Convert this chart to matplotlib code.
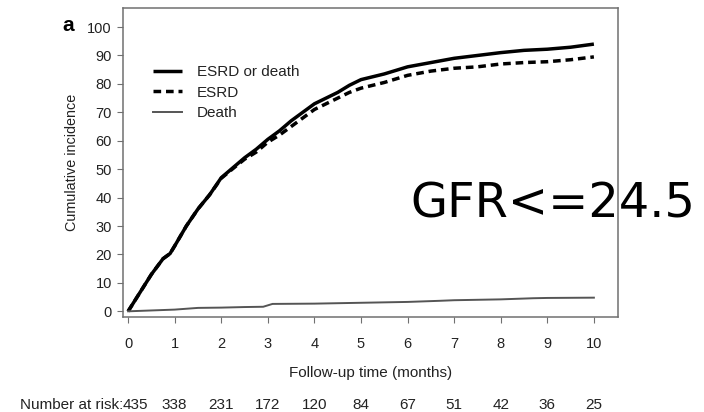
import matplotlib
matplotlib.use("Agg")
import matplotlib.pyplot as plt
from matplotlib.transforms import blended_transform_factory

# Cumulative incidence (%) by follow-up time (months)
t_combined = [0, 0.25, 0.5, 0.75, 0.9, 1.0, 1.25, 1.5, 1.75, 2.0, 2.25, 2.5, 2.75,
              3.0, 3.25, 3.5, 3.75, 4.0, 4.25, 4.5, 4.75, 5.0, 5.5, 6.0, 6.5, 7.0,
              7.5, 8.0, 8.5, 9.0, 9.5, 10.0]
esrd_or_death = [0, 6.5, 13, 18.5, 20.3, 23, 30, 36, 41, 47, 50.5, 54, 57,
                 60.5, 63.5, 67, 70, 73, 75, 77, 79.5, 81.5, 83.5, 86, 87.5, 89,
                 90, 91, 91.8, 92.2, 92.9, 94]
esrd = [0, 6.5, 13, 18.5, 20.3, 23, 30, 36, 41, 46.8, 50.2, 53.5, 56,
        59.5, 62, 65, 68, 71, 73, 75, 77, 78.5, 80.5, 83, 84.5, 85.5,
        86, 87, 87.5, 87.8, 88.5, 89.5]

t_death = [0, 0.5, 1.0, 1.5, 2.0, 2.5, 2.9, 3.1, 4.0, 5.0, 6.0, 6.7, 7.0, 8.0, 8.7, 9.0, 10.0]
death = [0, 0.3, 0.6, 1.2, 1.3, 1.5, 1.6, 2.6, 2.7, 3.0, 3.3, 3.7, 3.9, 4.2, 4.6, 4.7, 4.8]

x_ticks = list(range(0, 11))
y_ticks = list(range(0, 101, 10))
at_risk = [435, 338, 231, 172, 120, 84, 67, 51, 42, 36, 25]

plt.rcParams["font.family"] = ["Liberation Sans", "DejaVu Sans"]
text_color = "#222222"
spine_color = "#707070"

fig = plt.figure(figsize=(7.04, 4.12), dpi=100)
ax = fig.add_axes([0.1747, 0.2306, 0.7033, 0.75])

ax.plot(t_combined, esrd_or_death, color="black", lw=2.5, solid_capstyle="butt",
        label="ESRD or death")
ax.plot(t_combined, esrd, color="black", lw=2.5, linestyle=(0, (2.2, 1.4)),
        label="ESRD")
ax.plot(t_death, death, color="#555555", lw=1.4, label="Death")

ax.set_xlim(-0.11, 10.52)
ax.set_ylim(-2.0, 106.7)
ax.set_xticks(x_ticks)
ax.set_yticks(y_ticks)
ax.tick_params(axis="x", direction="out", length=4, width=0.8, pad=10.5,
               labelsize=10.5, colors=spine_color, labelcolor=text_color)
ax.tick_params(axis="y", direction="out", length=4, width=0.8, pad=4,
               labelsize=10.5, colors=spine_color, labelcolor=text_color)
for sp in ax.spines.values():
    sp.set_color(spine_color)
    sp.set_linewidth(1.1)

ax.set_xlabel("Follow-up time (months)", fontsize=11, color=text_color, labelpad=11)
ax.set_ylabel("Cumulative incidence", fontsize=10.4, color=text_color, labelpad=6)

leg = ax.legend(loc="upper left", bbox_to_anchor=(0.06, 0.815), frameon=False,
                fontsize=11, handlelength=1.95, handletextpad=0.95,
                labelspacing=0.42, borderpad=0, borderaxespad=0)
for txt in leg.get_texts():
    txt.set_color(text_color)

# Panel letter
fig.text(0.089, 0.937, "a", fontsize=15, fontweight="bold", color="black",
         ha="left", va="center")

# Number-at-risk row under the axis
row_y = 0.018
row_tr = blended_transform_factory(ax.transData, fig.transFigure)
fig.text(0.1747, row_y, "Number at risk:", fontsize=11, color=text_color,
         ha="right", va="center")
for i, (xt, n) in enumerate(zip(x_ticks, at_risk)):
    if i == 0:
        ax.text(-0.11, row_y, str(n), transform=row_tr, fontsize=11,
                color=text_color, ha="left", va="center", clip_on=False)
    else:
        ax.text(xt, row_y, str(n), transform=row_tr, fontsize=11,
                color=text_color, ha="center", va="center", clip_on=False)

# Subgroup caption
fig.text(0.785, 0.505, "GFR<=24.5", fontsize=34.5, family="DejaVu Sans",
         color="black", ha="center", va="center")

fig.savefig("out.png", dpi=100)
